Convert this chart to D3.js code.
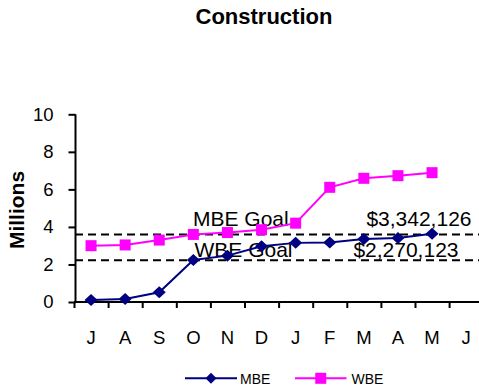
<!DOCTYPE html>
<html><head><meta charset="utf-8">
<script src="https://cdn.jsdelivr.net/npm/d3@7"></script>
<style>
html,body{margin:0;padding:0;background:#fff;}
svg{display:block;font-family:Arial,"Liberation Sans",sans-serif;}
</style></head>
<body>
<svg id="c" width="479" height="389"></svg>
<script>
const title = "Construction";
const yTitle = "Millions";
const months = ["J","A","S","O","N","D","J","F","M","A","M","J"];
const mbe = [0.1,0.16,0.52,2.24,2.47,2.97,3.15,3.17,3.36,3.41,3.64];
const wbe = [3.0,3.04,3.3,3.6,3.7,3.85,4.2,6.11,6.59,6.73,6.89];
const yTicks = [0,2,4,6,8,10];
const goals = [
  {name:"MBE Goal", value:3.6, amount:"$3,342,126", amountEnd:471.5},
  {name:"WBE Goal", value:2.22, amount:"$2,270,123", amountEnd:458.5}
];
const seriesNames = ["MBE","WBE"];
const colors = {MBE:"#000080", WBE:"#FF00FF"};

const svg = d3.select("#c");
const x0 = 74, x1 = 483.2, yBottom = 302, yTop = 114.3;
const xb = d3.scaleBand().domain(d3.range(months.length)).range([x0, x1]).padding(0);
const xl = d3.scaleLinear().domain([0, months.length]).range([x0, x1]);
const y = d3.scaleLinear().domain([0, 10]).range([yBottom, yTop]);
const cx = i => xb(i) + xb.bandwidth()/2;

// title
svg.append("text").attr("x",264).attr("y",24).attr("text-anchor","middle")
  .attr("font-size",22).attr("font-weight","bold").text(title);
// y title
svg.append("text").attr("transform","translate(24,210) rotate(-90)")
  .attr("text-anchor","middle").attr("font-size",21).attr("font-weight","bold").text(yTitle);

// goal lines
goals.forEach(g=>{
  svg.append("line").attr("x1",75).attr("x2",479).attr("y1",y(g.value)).attr("y2",y(g.value))
    .attr("stroke","#000").attr("stroke-width",2).attr("stroke-dasharray","8,5");
});

// y axis
const ya = svg.append("g").attr("transform","translate(75.5,0)")
  .call(d3.axisLeft(y).tickValues(yTicks).tickSize(7).tickPadding(15).tickFormat(d3.format("d")));
ya.select(".domain").attr("stroke","#000").attr("stroke-width",2).attr("d",`M0,${yTop}V${yBottom}`);
ya.selectAll(".tick line").attr("stroke","#000").attr("stroke-width",2);
ya.selectAll(".tick text").attr("font-size",18.5).attr("font-family","Arial,'Liberation Sans',sans-serif").attr("fill","#000");

// x axis ticks
const xa = svg.append("g").attr("transform",`translate(0,${yBottom})`)
  .call(d3.axisBottom(xl).tickValues(d3.range(months.length+1)).tickSize(6).tickFormat(""));
xa.select(".domain").attr("stroke","#000").attr("stroke-width",2).attr("d",`M${x0},0H${x1}`);
xa.selectAll(".tick line").attr("stroke","#000").attr("stroke-width",2);
// x labels
const xla = svg.append("g").attr("transform",`translate(0,${yBottom})`)
  .call(d3.axisBottom(xb).tickSize(0).tickPadding(30).tickFormat(i=>months[i]));
xla.select(".domain").remove();
xla.selectAll(".tick text").attr("font-size",18.5).attr("font-family","Arial,'Liberation Sans',sans-serif").attr("fill","#000").attr("dy",null).attr("y",42);

// goal labels
goals.forEach(g=>{
  const yy = g.name.startsWith("MBE") ? 226 : 257;
  const xs = g.name.startsWith("MBE") ? 193 : 194.5;
  svg.append("text").attr("x",xs).attr("y",yy).attr("font-size",21).text(g.name);
  svg.append("text").attr("x",g.amountEnd).attr("y",yy).attr("text-anchor","end").attr("font-size",21).text(g.amount);
});

const line = d3.line().x((d,i)=>cx(i)).y(d=>y(d));
// WBE series
svg.append("path").datum(wbe).attr("d",line).attr("fill","none").attr("stroke",colors.WBE).attr("stroke-width",2);
svg.selectAll(".wsq").data(wbe).enter().append("rect")
  .attr("x",(d,i)=>cx(i)-5.5).attr("y",d=>y(d)-5.5).attr("width",11).attr("height",11).attr("fill",colors.WBE);
// MBE series
svg.append("path").datum(mbe).attr("d",line).attr("fill","none").attr("stroke",colors.MBE).attr("stroke-width",2);
const dia = (px,py,w,h)=>`M${px},${py-h}L${px+w},${py}L${px},${py+h}L${px-w},${py}Z`;
svg.selectAll(".mdi").data(mbe).enter().append("path")
  .attr("d",(d,i)=>dia(cx(i),y(d),6.5,6)).attr("fill",colors.MBE);

// legend
const lg = [{n:"MBE",x1:185,x2:237,tx:240},{n:"WBE",x1:295,x2:346.5,tx:351.5}];
lg.forEach(l=>{
  svg.append("line").attr("x1",l.x1).attr("x2",l.x2).attr("y1",378.3).attr("y2",378.3)
    .attr("stroke",colors[l.n]).attr("stroke-width",2);
  const m = (l.x1+l.x2)/2;
  if(l.n==="MBE") svg.append("path").attr("d",dia(m,378.3,5.5,5.5)).attr("fill",colors[l.n]);
  else svg.append("rect").attr("x",m-5.5).attr("y",372.8).attr("width",11).attr("height",11).attr("fill",colors[l.n]);
  svg.append("text").attr("x",l.tx).attr("y",384).attr("font-size",14).text(l.n);
});
</script>
</body></html>
